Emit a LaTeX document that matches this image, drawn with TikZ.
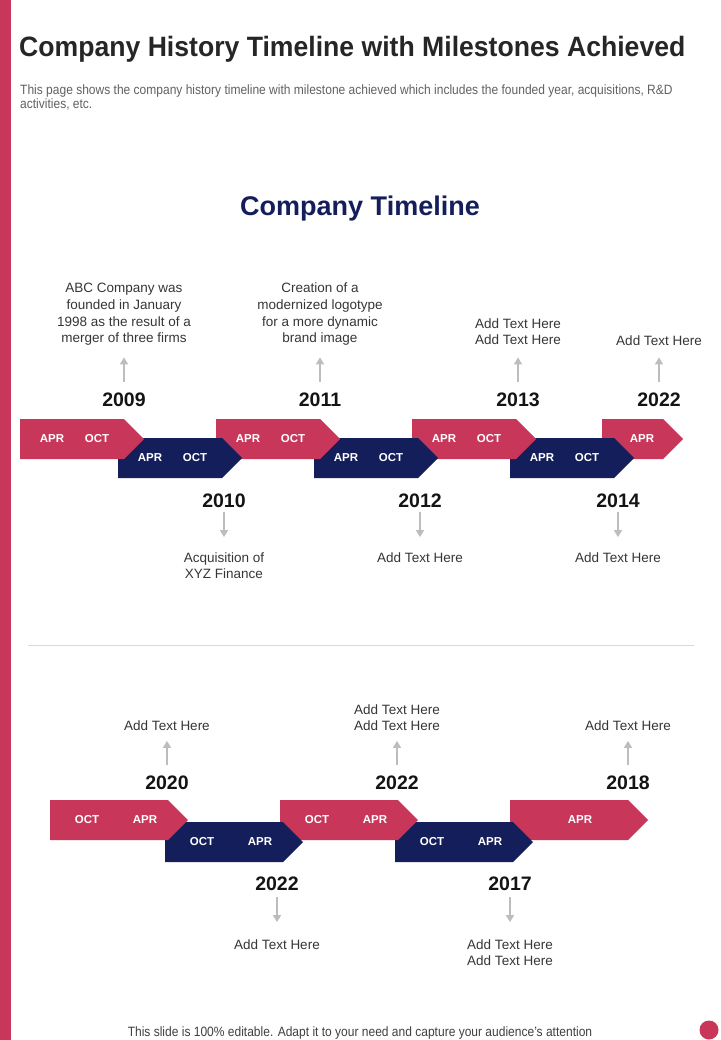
\documentclass[tikz,border=0pt]{standalone}
\usepackage{fontspec}
\setmainfont{Liberation Sans}
\newfontfamily\titlefont[FakeStretch=0.95]{Liberation Sans}
\newfontfamily\narrowfont[FakeStretch=0.89]{Liberation Sans}
\usetikzlibrary{positioning,arrows.meta}
\definecolor{crimson}{HTML}{C8375A}
\definecolor{navyblue}{HTML}{141E5B}
\definecolor{pointergray}{HTML}{BDBDBD}
\definecolor{notegray}{HTML}{363636}
\definecolor{titlegray}{HTML}{262626}

\begin{document}
\begin{tikzpicture}[x=1pt,y=-1pt,
	year/.style={font=\fontsize{19.5}{22}\selectfont\bfseries,text=black!92,inner sep=0pt},
	note/.style={font=\fontsize{13.5}{16.8}\selectfont,text=notegray,align=center,inner sep=0pt},
	note up/.style={note,text depth=2.8pt},
	month/.style={font=\fontsize{11.5}{13}\selectfont\bfseries,text=white,inner sep=0pt},
	pointer/.style={draw=pointergray,line width=1.5pt,-{Triangle[length=7pt,width=8pt]}},
	pointer up/.style={pointer,shorten <=11pt,shorten >=#1},
	pointer up/.default=11.5pt,
	pointer down/.style={pointer,shorten <=3.5pt,shorten >=#1},
	pointer down/.default=15pt]

	\useasboundingbox (0,0) rectangle (720,1040);
	\fill[white] (0,0) rectangle (720,1040);
	\fill[crimson] (0,0) rectangle (11,1040);

	% header
	\node[anchor=base west,inner sep=0pt,text=titlegray,font=\titlefont\fontsize{28}{32}\selectfont\bfseries] (title) at (19,56.5) {Company History Timeline with Milestones Achieved};
	\node[anchor=north west,inner sep=0pt,text=black!62,align=left,font=\narrowfont\fontsize{13.5}{14}\selectfont] (intro) at (20,85) {This page shows the company history timeline with milestone achieved which includes the founded year, acquisitions, R\&D\\activities, etc.};
	\node[anchor=base,inner sep=0pt,text=navyblue,font=\fontsize{27}{32}\selectfont\bfseries] (heading) at (360,216) {Company Timeline};

	% first timeline, drawn right to left so each tip lies on the next piece
	\foreach \x/\y/\l/\c in {602/419/61/crimson,510/438/104/navyblue,412/419/104/crimson,314/438/104/navyblue,216/419/104/crimson,118/438/104/navyblue,20/419/104/crimson}
		\fill[\c] (\x,\y) -- ++(\l,0) -- ++(20,20) -- ++(-20,20) -- ++(-\l,0) -- cycle;
	\foreach \x/\y [count=\i] in {20/439,118/458,216/439,314/458,412/439,510/458}{
		\node[month] (apr\i) at (\x+32,\y) {APR};
		\node[month] (oct\i) at (\x+77,\y) {OCT};
	}
	\node[month] (apr7) at (642,439) {APR};

	\node[year] (y2009) at (124,400) {2009};
	\node[year] (y2011) at (320,400) {2011};
	\node[year] (y2013) at (518,400) {2013};
	\node[year] (y2022a) at (659,400) {2022};
	\node[year] (y2010) at (224,501) {2010};
	\node[year] (y2012) at (420,501) {2012};
	\node[year] (y2014) at (618,501) {2014};

	\node[note up,above=47pt of y2009] (t2009) {ABC Company was\\founded in January\\1998 as the result of a\\merger of three firms};
	\node[note up,above=47pt of y2011] (t2011) {Creation of a\\modernized logotype\\for a more dynamic\\brand image};
	\node[note up,above=45pt of y2013] (t2013) {Add Text Here\\Add Text Here};
	\node[note up,above=44pt of y2022a] (t2022a) {Add Text Here};
	\node[note,below=44pt of y2010] (t2010) {Acquisition of\\XYZ Finance};
	\node[note,below=44pt of y2012] (t2012) {Add Text Here};
	\node[note,below=44pt of y2014] (t2014) {Add Text Here};

	\draw[pointer up] (y2009) -- (t2009);
	\draw[pointer up] (y2011) -- (t2011);
	\draw[pointer up=9.5pt] (y2013) -- (t2013);
	\draw[pointer up=8.5pt] (y2022a) -- (t2022a);
	\foreach \a in {2010,2012,2014}
		\draw[pointer down] (y\a) -- (t\a);

	\draw[gray!30,line width=1pt] (28,645) -- (694,645);

	% second timeline
	\foreach \x/\y/\c in {510/800/crimson,395/822/navyblue,280/800/crimson,165/822/navyblue,50/800/crimson}
		\fill[\c] (\x,\y) -- ++(118,0) -- ++(20,20) -- ++(-20,20) -- ++(-118,0) -- cycle;
	\foreach \x/\y [count=\i] in {50/820,165/842,280/820,395/842}{
		\node[month] (octb\i) at (\x+37,\y) {OCT};
		\node[month] (aprb\i) at (\x+95,\y) {APR};
	}
	\node[month] (aprb5) at (580,820) {APR};

	\node[year] (y2020) at (167,783) {2020};
	\node[year] (y2022b) at (397,783) {2022};
	\node[year] (y2018) at (628,783) {2018};
	\node[year] (y2022c) at (277,884) {2022};
	\node[year] (y2017) at (510,884) {2017};

	\node[note up,above=42pt of y2020] (t2020) {Add Text Here};
	\node[note up,above=42pt of y2022b] (t2022b) {Add Text Here\\Add Text Here};
	\node[note up,above=42pt of y2018] (t2018) {Add Text Here};
	\node[note,below=48pt of y2022c] (t2022c) {Add Text Here};
	\node[note,below=48pt of y2017] (t2017) {Add Text Here\\Add Text Here};

	\foreach \a in {2020,2022b,2018}
		\draw[pointer up=7pt] (y\a) -- (t\a);
	\foreach \a in {2022c,2017}
		\draw[pointer down=17pt,shorten <=6pt] (y\a) -- (t\a);

	% footer
	\node[anchor=base,inner sep=0pt,text=black!75,font=\narrowfont\fontsize{13.5}{15}\selectfont] (footer) at (360,1036) {This slide is 100\% editable. Adapt it to your need and capture your audience’s attention};
	\fill[crimson] (709,1030) circle (9.5pt);
\end{tikzpicture}
\end{document}
